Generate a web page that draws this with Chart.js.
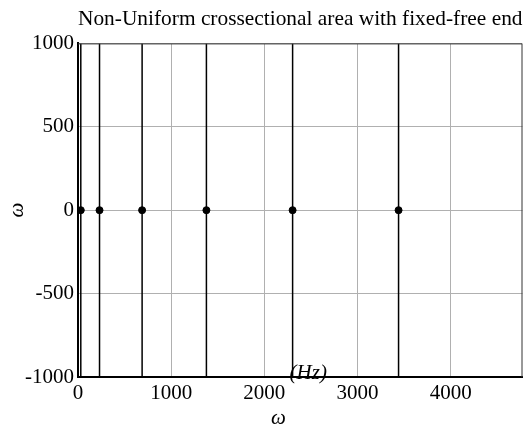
<!DOCTYPE html>
<html>
<head>
<meta charset="utf-8">
<script src="https://cdn.jsdelivr.net/npm/chart.js@4/dist/chart.umd.min.js"></script>
<style>
html,body{margin:0;padding:0;background:#fff;}
#wrap{width:527px;height:429px;}
</style>
</head>
<body>
<div id="wrap"><canvas id="c" width="527" height="429"></canvas></div>
<script>
// Data
const frequencies = [30, 231, 688, 1378, 2303, 3440];   // natural frequencies (Hz)
const pointValues = [0, 0, 0, 0, 0, 0];                  // markers sit on the zero line
const xTicks = [0, 1000, 2000, 3000, 4000];
const yTicks = [-1000, -500, 0, 500, 1000];
const xMax = 4770;
const titleText = 'Non-Uniform crossectional area with fixed-free end';
const xLabel = 'ω';
const yLabel = 'ω';
const unitLabel = '(Hz)';

const yMin = yTicks[0], yMax = yTicks[yTicks.length - 1];
const serif = '"Liberation Serif", "DejaVu Serif", serif';

const datasets = [];
frequencies.forEach(f => {
  datasets.push({
    type: 'line',
    data: [{x: f, y: yMin}, {x: f, y: yMax}],
    borderColor: '#000',
    borderWidth: 1.5,
    pointRadius: 0,
    fill: false
  });
});
datasets.push({
  type: 'scatter',
  data: frequencies.map((f, i) => ({x: f, y: pointValues[i]})),
  backgroundColor: '#000',
  borderColor: '#000',
  pointRadius: 3.5,
  pointHoverRadius: 3.5
});

const decor = {
  id: 'decor',
  afterDatasetsDraw(chart) {
    const {ctx, chartArea: a} = chart;
    ctx.save();
    ctx.strokeStyle = '#333';
    ctx.lineWidth = 1;
    ctx.beginPath();
    ctx.moveTo(a.left, a.top + 0.5);
    ctx.lineTo(a.right - 0.5, a.top + 0.5);
    ctx.lineTo(a.right - 0.5, a.bottom);
    ctx.stroke();
    ctx.restore();
  },
  afterDraw(chart) {
    const {ctx, chartArea: a} = chart;
    ctx.save();
    ctx.fillStyle = '#000';
    ctx.font = 'italic 21px ' + serif;
    ctx.textAlign = 'center';
    ctx.textBaseline = 'middle';
    // x label
    ctx.fillText(xLabel, a.left + (a.right - a.left) * 0.451, 418);
    // unit label, overlapping the axis
    ctx.fillText(unitLabel, a.left + (a.right - a.left) * 0.518, a.bottom - 4);
    // y label (rotated)
    ctx.translate(17, (a.top + a.bottom) / 2);
    ctx.rotate(-Math.PI / 2);
    ctx.fillText(yLabel, 0, 0);
    ctx.restore();
  }
};

new Chart(document.getElementById('c'), {
  type: 'scatter',
  data: {datasets},
  plugins: [decor],
  options: {
    responsive: false,
    animation: false,
    events: [],
    layout: {padding: {left: 0, right: 2, top: 0, bottom: 0}},
    plugins: {
      legend: {display: false},
      tooltip: {enabled: false},
      title: {
        display: true,
        text: titleText,
        fullSize: false,
        color: '#000',
        font: {family: serif, size: 22, weight: 'normal'},
        padding: {top: 6, bottom: 11}
      }
    },
    scales: {
      x: {
        type: 'linear',
        min: 0,
        max: xMax,
        afterBuildTicks: s => { s.ticks = xTicks.map(v => ({value: v})); },
        afterFit: s => { s.height = 52; },
        grid: {color: '#b0b0b0', lineWidth: 1, drawTicks: false},
        border: {color: '#000', width: 2},
        ticks: {color: '#000', font: {family: serif, size: 21}, padding: 4, maxRotation: 0,
                callback: v => String(v)}
      },
      y: {
        type: 'linear',
        min: yMin,
        max: yMax,
        afterBuildTicks: s => { s.ticks = yTicks.map(v => ({value: v})); },
        afterFit: s => { s.width = 78; },
        grid: {color: '#b0b0b0', lineWidth: 1, drawTicks: false},
        border: {color: '#000', width: 2},
        ticks: {color: '#000', font: {family: serif, size: 21}, padding: 4,
                callback: v => String(v)}
      }
    }
  }
});
</script>
</body>
</html>
